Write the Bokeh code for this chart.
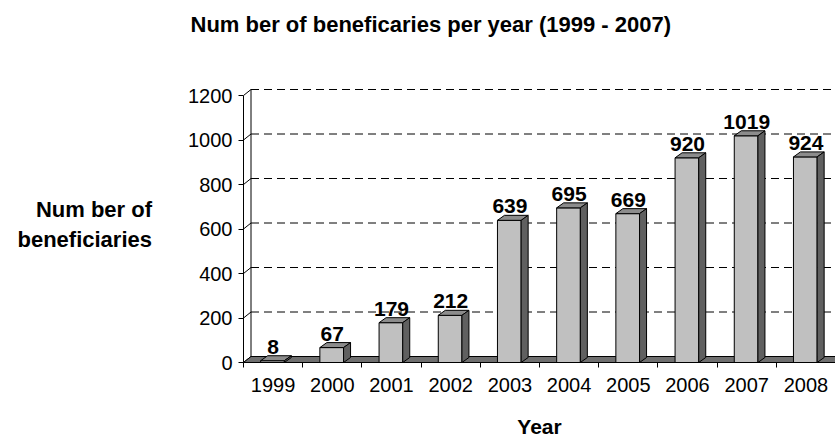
from bokeh.plotting import figure
from bokeh.models import Range1d, FixedTicker, Title
from bokeh.core.properties import value
from bokeh.embed import file_html
from bokeh.resources import INLINE

# ---------------- data ----------------
years = ["1999", "2000", "2001", "2002", "2003", "2004", "2005", "2006", "2007", "2008"]
beneficiaries = [8, 67, 179, 212, 639, 695, 669, 920, 1019, 924]
y_ticks = [0, 200, 400, 600, 800, 1000, 1200]
title_text = "Num ber of beneficaries per year (1999 - 2007)"
ylabel_text = "Num ber of\nbeneficiaries"
xlabel_text = "Year"

# ---------------- layout ----------------
FONT = "Liberation Sans"
W, H = 835, 440
ML, MT, MB = 243, 85, 78
n = len(years)
y_max = 1245
frame_w = W - ML
frame_h = H - MT - MB
XS = frame_w / n          # px per x unit
YS = frame_h / y_max      # px per y unit


def dx(px):
    return px / XS


def dy(px):
    return px / YS


p = figure(width=W, height=H, x_range=Range1d(0, n), y_range=Range1d(0, y_max),
           output_backend="svg", toolbar_location=None,
           min_border_left=ML, min_border_right=0, min_border_top=MT, min_border_bottom=MB)
p.outline_line_color = None
p.xgrid.visible = False
p.ygrid.visible = False
p.background_fill_color = "white"

wdx, wdy = dx(7.5), dy(6)   # wall / floor depth
bdx, bdy = dx(7), dy(5)     # bar depth

# back wall gridlines (dashed) and side-wall diagonals
grid_vals = [t + wdy for t in y_ticks[1:]]
p.segment(x0=[wdx] * len(grid_vals), y0=grid_vals, x1=[n + 1] * len(grid_vals), y1=grid_vals,
          line_color="black", line_width=1, line_dash="8 5")
p.segment(x0=[0] * len(y_ticks), y0=y_ticks, x1=[wdx] * len(y_ticks), y1=[t + wdy for t in y_ticks],
          line_color="black", line_width=1)
# back wall left edge
p.segment(x0=[wdx], y0=[wdy], x1=[wdx], y1=[y_ticks[-1] + wdy], line_color="black", line_width=1)

# floor
p.patch(x=[0, n + 1, n + 1 + wdx, wdx], y=[0, 0, wdy, wdy],
        fill_color="#6f6f6f", line_color="black", line_width=1)

# bars
fl = [i + 0.29 for i in range(n)]
fr = [i + 0.69 for i in range(n)]
p.quad(left=fl, right=fr, bottom=0, top=beneficiaries,
       fill_color="#c0c0c0", line_color="black", line_width=1)
top_xs = [[l, r, r + bdx, l + bdx] for l, r in zip(fl, fr)]
top_ys = [[v, v, v + bdy, v + bdy] for v in beneficiaries]
p.patches(xs=top_xs, ys=top_ys, fill_color="#8c8c8c", line_color="black", line_width=1)
side_xs = [[r, r, r + bdx, r + bdx] for r in fr]
side_ys = [[0, v, v + bdy, bdy] for v in beneficiaries]
p.patches(xs=side_xs, ys=side_ys, fill_color="#606060", line_color="black", line_width=1)

# value labels
p.text(x=[i + 0.5 for i in range(n)], y=beneficiaries, text=[str(v) for v in beneficiaries],
       y_offset=-14, text_align="center", text_baseline="alphabetic",
       text_font=value(FONT), text_font_size="21px", text_font_style="bold", text_color="black")

# axes
xa = p.xaxis[0]
xa.ticker = FixedTicker(ticks=[i + 0.5 for i in range(n)], minor_ticks=list(range(n + 1)))
xa.major_label_overrides = {i + 0.5: y for i, y in enumerate(years)}
xa.major_tick_line_color = None
xa.major_tick_in = 0
xa.major_tick_out = 5
xa.minor_tick_in = 0
xa.minor_tick_out = 5
xa.minor_tick_line_color = "black"
xa.axis_line_color = "black"
xa.major_label_standoff = 10
xa.major_label_text_font = FONT
xa.major_label_text_font_size = "20px"
xa.major_label_text_color = "black"
xa.axis_label = xlabel_text
xa.axis_label_text_font = FONT
xa.axis_label_text_font_size = "21px"
xa.axis_label_text_font_style = "bold"
xa.axis_label_text_color = "black"
xa.axis_label_standoff = 20

ya = p.yaxis[0]
ya.ticker = FixedTicker(ticks=y_ticks, minor_ticks=[])
ya.bounds = (0, y_ticks[-1])
ya.major_tick_in = 0
ya.major_tick_out = 5
ya.minor_tick_line_color = None
ya.major_tick_line_color = "black"
ya.axis_line_color = "black"
ya.major_label_standoff = 6
ya.major_label_text_font = FONT
ya.major_label_text_font_size = "20px"
ya.major_label_text_color = "black"
ya.axis_label = ylabel_text
ya.axis_label_orientation = "horizontal"
ya.axis_label_text_font = FONT
ya.axis_label_text_font_size = "22px"
ya.axis_label_text_font_style = "bold"
ya.axis_label_text_color = "black"
ya.axis_label_text_align = "center"
ya.axis_label_standoff = 33

# blank spacer panel between the frame and the title
p.title.text = ""
spacer = Title(text=" ", standoff=34, text_font=FONT, text_font_size="10px")
p.add_layout(spacer, "above")

# title (outer panel)
title = Title(text=title_text, align="left", offset=-53, standoff=4,
              text_font=FONT, text_font_size="22px", text_font_style="bold", text_color="black")
p.add_layout(title, "above")

open("out.html", "w").write(file_html(p, INLINE))
